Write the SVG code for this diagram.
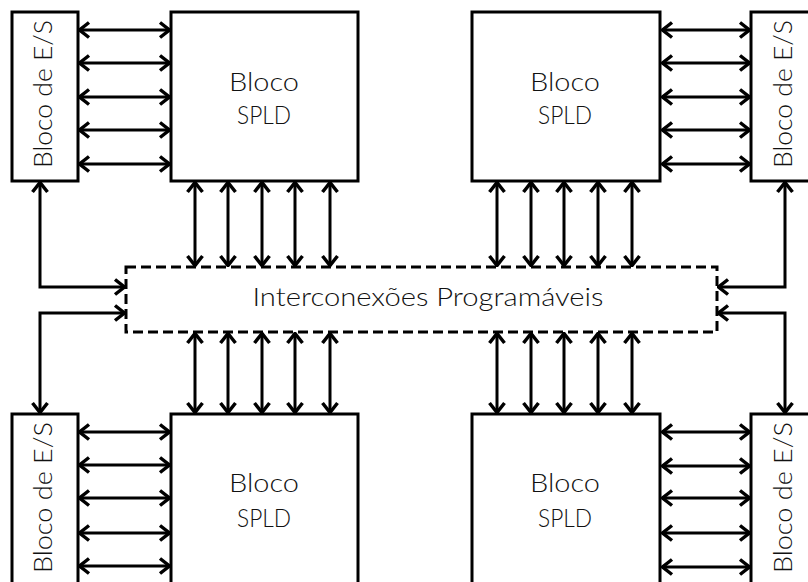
<svg xmlns="http://www.w3.org/2000/svg" width="808" height="582" viewBox="0 0 808 582">
<defs>
<marker id="ah" viewBox="0 0 14 18" refX="12" refY="9" markerWidth="14" markerHeight="18" markerUnits="userSpaceOnUse" orient="auto-start-reverse">
<path d="M2,1.5 L11.5,9 L2,16.5" fill="none" stroke="#000" stroke-width="3.5"/>
</marker>
<style>
.box{fill:#fff;stroke:#000;stroke-width:3}
.dash{fill:#fff;stroke:#000;stroke-width:3;stroke-dasharray:10 5}
.c{fill:none;stroke:#000;stroke-width:3;marker-start:url(#ah);marker-end:url(#ah)}
.t{font-family:"Lato","Liberation Sans",sans-serif;font-weight:300;font-size:25px;fill:#111;text-anchor:middle}
</style>
</defs>
<g id="connectors">
<line class="c" x1="79" y1="30" x2="170" y2="30"/>
<line class="c" x1="79" y1="63" x2="170" y2="63"/>
<line class="c" x1="79" y1="97" x2="170" y2="97"/>
<line class="c" x1="79" y1="130" x2="170" y2="130"/>
<line class="c" x1="79" y1="164" x2="170" y2="164"/>
<line class="c" x1="662" y1="30" x2="750" y2="30"/>
<line class="c" x1="662" y1="63" x2="750" y2="63"/>
<line class="c" x1="662" y1="97" x2="750" y2="97"/>
<line class="c" x1="662" y1="130" x2="750" y2="130"/>
<line class="c" x1="662" y1="164" x2="750" y2="164"/>
<line class="c" x1="79" y1="432" x2="170" y2="432"/>
<line class="c" x1="79" y1="465" x2="170" y2="465"/>
<line class="c" x1="79" y1="498" x2="170" y2="498"/>
<line class="c" x1="79" y1="533" x2="170" y2="533"/>
<line class="c" x1="79" y1="566" x2="170" y2="566"/>
<line class="c" x1="662" y1="432" x2="750" y2="432"/>
<line class="c" x1="662" y1="466" x2="750" y2="466"/>
<line class="c" x1="662" y1="498" x2="750" y2="498"/>
<line class="c" x1="662" y1="533" x2="750" y2="533"/>
<line class="c" x1="662" y1="567" x2="750" y2="567"/>
<line class="c" x1="195" y1="182" x2="195" y2="266"/>
<line class="c" x1="228" y1="182" x2="228" y2="266"/>
<line class="c" x1="262" y1="182" x2="262" y2="266"/>
<line class="c" x1="295" y1="182" x2="295" y2="266"/>
<line class="c" x1="330" y1="182" x2="330" y2="266"/>
<line class="c" x1="497" y1="182" x2="497" y2="266"/>
<line class="c" x1="531" y1="182" x2="531" y2="266"/>
<line class="c" x1="564" y1="182" x2="564" y2="266"/>
<line class="c" x1="598" y1="182" x2="598" y2="266"/>
<line class="c" x1="632" y1="182" x2="632" y2="266"/>
<line class="c" x1="195" y1="333" x2="195" y2="413"/>
<line class="c" x1="228" y1="333" x2="228" y2="413"/>
<line class="c" x1="262" y1="333" x2="262" y2="413"/>
<line class="c" x1="295" y1="333" x2="295" y2="413"/>
<line class="c" x1="330" y1="333" x2="330" y2="413"/>
<line class="c" x1="497" y1="333" x2="497" y2="413"/>
<line class="c" x1="531" y1="333" x2="531" y2="413"/>
<line class="c" x1="564" y1="333" x2="564" y2="413"/>
<line class="c" x1="598" y1="333" x2="598" y2="413"/>
<line class="c" x1="632" y1="333" x2="632" y2="413"/>
<polyline class="c" points="40,182 40,287 125,287"/>
<polyline class="c" points="125,313 40,313 40,413"/>
<polyline class="c" points="785,182 785,287 718,287"/>
<polyline class="c" points="718,313 785,313 785,413"/>
</g>
<g id="io-tl">
<rect class="box" x="12" y="12" width="66" height="169"/>
<text class="t" transform="translate(52,94) rotate(-90)" textLength="148" lengthAdjust="spacingAndGlyphs">Bloco de E/S</text>
</g>
<g id="io-tr">
<rect class="box" x="751" y="12" width="70" height="169"/>
<text class="t" transform="translate(792,94) rotate(-90)" textLength="148" lengthAdjust="spacingAndGlyphs">Bloco de E/S</text>
</g>
<g id="io-bl">
<rect class="box" x="12" y="414" width="66" height="190"/>
<text class="t" transform="translate(52,497.5) rotate(-90)" textLength="151" lengthAdjust="spacingAndGlyphs">Bloco de E/S</text>
</g>
<g id="io-br">
<rect class="box" x="751" y="414" width="70" height="190"/>
<text class="t" transform="translate(792,497.5) rotate(-90)" textLength="151" lengthAdjust="spacingAndGlyphs">Bloco de E/S</text>
</g>
<g id="spld-tl">
<rect class="box" x="171" y="12" width="187" height="169"/>
<text class="t" x="264" y="91" textLength="70" lengthAdjust="spacingAndGlyphs">Bloco</text>
<text class="t" x="264" y="124" textLength="54" lengthAdjust="spacingAndGlyphs">SPLD</text>
</g>
<g id="spld-tr">
<rect class="box" x="472" y="12" width="188" height="169"/>
<text class="t" x="565" y="91" textLength="70" lengthAdjust="spacingAndGlyphs">Bloco</text>
<text class="t" x="565" y="124" textLength="54" lengthAdjust="spacingAndGlyphs">SPLD</text>
</g>
<g id="spld-bl">
<rect class="box" x="171" y="414" width="187" height="190"/>
<text class="t" x="264" y="492" textLength="70" lengthAdjust="spacingAndGlyphs">Bloco</text>
<text class="t" x="264" y="527" textLength="54" lengthAdjust="spacingAndGlyphs">SPLD</text>
</g>
<g id="spld-br">
<rect class="box" x="472" y="414" width="188" height="190"/>
<text class="t" x="565" y="492" textLength="70" lengthAdjust="spacingAndGlyphs">Bloco</text>
<text class="t" x="565" y="527" textLength="54" lengthAdjust="spacingAndGlyphs">SPLD</text>
</g>
<g id="interconexoes">
<rect class="dash" x="126" y="267" width="591" height="65"/>
<text class="t" x="428" y="306" textLength="351" lengthAdjust="spacingAndGlyphs">Interconexões Programáveis</text>
</g>
</svg>
